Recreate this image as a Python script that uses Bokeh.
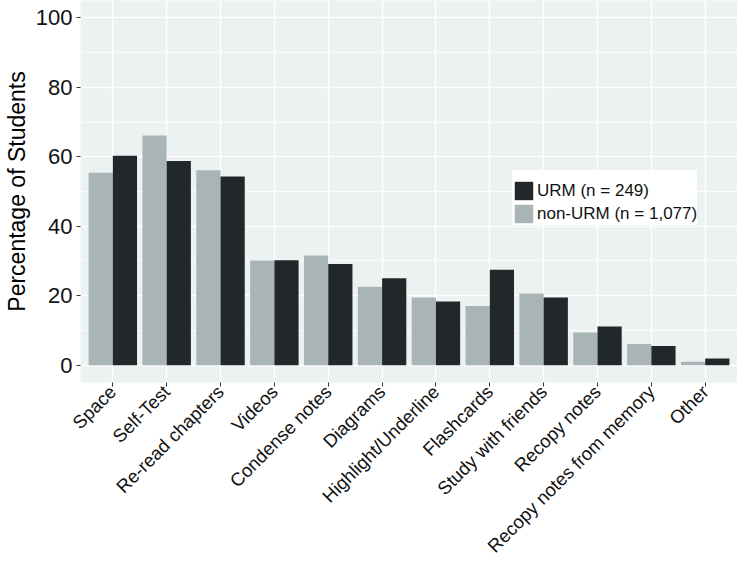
import math
from bokeh.plotting import figure
from bokeh.models import (FactorRange, Range1d, Legend, LegendItem,
                          ColumnDataSource, FixedTicker)
from bokeh.transform import dodge
from bokeh.embed import file_html
from bokeh.resources import INLINE

categories = ["Space", "Self-Test", "Re-read chapters", "Videos", "Condense notes",
              "Diagrams", "Highlight/Underline", "Flashcards", "Study with friends",
              "Recopy notes", "Recopy notes from memory", "Other"]
non_urm = [55.4, 66.1, 56.1, 30.1, 31.6, 22.6, 19.5, 17.0, 20.6, 9.4, 6.1, 1.0]
urm = [60.3, 58.8, 54.3, 30.2, 29.1, 25.0, 18.3, 27.5, 19.5, 11.1, 5.5, 1.9]
y_ticks = [0, 20, 40, 60, 80, 100]
y_minor = [10, 30, 50, 70, 90]
series_labels = ["URM (n = 249)", "non-URM (n = 1,077)"]
y_title = "Percentage of Students"

LIGHT = "#A9B5B4"
DARK = "#222829"
PANEL = "#ECF1F1"
FONT = "Liberation Sans"

p = figure(
    x_range=FactorRange(factors=categories, range_padding=0.1,
                        range_padding_units="absolute"),
    y_range=Range1d(-5, 105),
    frame_width=657, frame_height=382,
    min_border_left=72, min_border_right=0, min_border_top=0, min_border_bottom=0,
    output_backend="svg", toolbar_location=None,
)
p.background_fill_color = PANEL
p.border_fill_color = "white"
p.outline_line_color = None

src = ColumnDataSource(dict(cat=categories, non_urm=non_urm, urm=urm))
r_light = p.vbar(x=dodge("cat", -0.225, range=p.x_range), top="non_urm", bottom=0,
                 width=0.45, source=src, fill_color=LIGHT, line_color=None)
r_dark = p.vbar(x=dodge("cat", 0.225, range=p.x_range), top="urm", bottom=0,
                width=0.45, source=src, fill_color=DARK, line_color=None)

# grids
p.xgrid.grid_line_color = "white"
p.xgrid.grid_line_width = 1.5
p.ygrid.grid_line_color = "white"
p.ygrid.grid_line_width = 1.5
p.ygrid.minor_grid_line_color = "white"
p.ygrid.minor_grid_line_width = 0.8

# y axis
p.yaxis.ticker = FixedTicker(ticks=y_ticks, minor_ticks=y_minor)
p.yaxis.axis_label = y_title
p.yaxis.axis_label_text_font = FONT
p.yaxis.axis_label_text_font_size = "23px"
p.yaxis.axis_label_text_font_style = "normal"
p.yaxis.axis_label_text_color = "black"
p.yaxis.axis_label_standoff = 3
p.yaxis.minor_tick_line_color = None

for ax in (p.xaxis, p.yaxis):
    ax.axis_line_color = None
    ax.major_tick_line_color = "#333333"
    ax.major_tick_out = 4
    ax.major_tick_in = 0
    ax.major_label_text_font = FONT
    ax.major_label_text_color = "#111111"

p.yaxis.major_label_text_font_size = "22px"
p.yaxis.major_label_standoff = 4
p.xaxis.major_label_text_font_size = "18.5px"
p.xaxis.major_label_orientation = math.pi / 4
p.xaxis.major_label_standoff = 2

legend = Legend(
    items=[LegendItem(label=series_labels[0], renderers=[r_dark]),
           LegendItem(label=series_labels[1], renderers=[r_light])],
    location=(432, 157),
    title="\u00a0",
)
legend.background_fill_color = "white"
legend.background_fill_alpha = 1.0
legend.border_line_color = None
legend.padding = 8
legend.margin = 0
legend.spacing = 0
legend.glyph_width = 23
legend.glyph_height = 23
legend.label_height = 23
legend.label_standoff = 2
legend.label_text_font = FONT
legend.label_text_font_size = "17px"
legend.label_text_color = "#111111"
legend.title_text_font_size = "8px"
legend.title_standoff = 0
p.add_layout(legend)

open("out.html", "w").write(file_html(p, INLINE))
